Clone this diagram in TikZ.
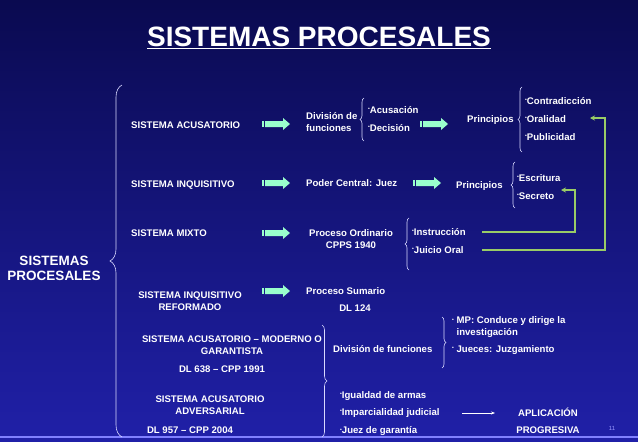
\documentclass[tikz,border=0pt]{standalone}
\usepackage{fontspec}
\setmainfont{Liberation Sans}
\usetikzlibrary{decorations.pathreplacing,arrows.meta,calc}
\definecolor{bgtop}{HTML}{0A0A50}
\definecolor{bgbot}{HTML}{2020A8}
\definecolor{mint}{HTML}{99FFCC}
\definecolor{olive}{HTML}{99CC66}
\newcommand{\bu}{{\fontsize{5}{5}\selectfont\raisebox{2.5pt}{\textbullet}}}
\tikzset{
 t/.style={text=white,font=\bfseries\fontsize{9.6}{11.5}\selectfont,inner sep=0pt,align=center},
 tl/.style={t,anchor=west,align=left},
 br/.style={draw=white!85!blue,line width=0.6pt,decorate,decoration={brace,amplitude=#1}},
 br/.default=4pt,
 brm/.style={draw=white!85!blue,line width=0.6pt,decorate,decoration={brace,mirror,amplitude=#1}},
 brm/.default=4pt,
 gline/.style={draw=olive,line width=1.3pt,-{Stealth[length=5pt,width=5pt]}}
}
\newcommand{\blkarrow}[2]{% x,y left
 \fill[mint] (#1,#2-3) rectangle ++(2,6);
 \fill[mint] (#1+3,#2-3) -- ++(18,0) -- ++(0,-3) -- ++(7,6) -- ++(-7,6) -- ++(0,-3) -- ++(-18,0) -- cycle;}
\begin{document}
\begin{tikzpicture}[x=1pt,y=-1pt]
\useasboundingbox (0,0) rectangle (638,442);
\shade[top color=bgtop,bottom color=bgbot] (0,0) rectangle (638,442);
\fill[blue!50!white] (0,436) rectangle (638,437.5);
% title
\node[text=white,font=\bfseries\fontsize{28}{32}\selectfont] (title) at (319,38) {\underline{SISTEMAS PROCESALES}};
% root
\node[t,font=\bfseries\fontsize{13.5}{15}\selectfont] (root) at (54,268) {SISTEMAS\\PROCESALES};
\draw[br=12pt] (122,437) -- (122,85);
% row 1
\node[tl] (sa) at (131,125) {SISTEMA ACUSATORIO};
\blkarrow{262}{124}
\node[tl] (df) at (306,122) {División de\\funciones};
\draw[br] (364,141) -- (364,98);
\node[tl] (ac) at (368,110) {\bu Acusación};
\node[tl] (de) at (368,128) {\bu Decisión};
\blkarrow{420}{124}
\node[tl] (p1) at (467,120) {Principios};
\draw[br] (522,152) -- (522,87);
\node[tl] (co) at (525,101) {\bu Contradicción};
\node[tl] (or) at (525,119) {\bu Oralidad};
\node[tl] (pu) at (525,137) {\bu Publicidad};
% row 2
\node[tl] (si) at (131,185) {SISTEMA INQUISITIVO};
\blkarrow{262}{183}
\node[tl] (pc) at (306,183) {Poder Central: Juez};
\blkarrow{413}{183}
\node[tl] (p2) at (456,186) {Principios};
\draw[br] (515,208) -- (515,162);
\node[tl] (es) at (517,178) {\bu Escritura};
\node[tl] (se) at (517,196) {\bu Secreto};
% row 3
\node[tl] (sm) at (131,233) {SISTEMA MIXTO};
\blkarrow{262}{233}
\node[t] (po) at (351,239) {Proceso Ordinario\\CPPS 1940};
\draw[br] (409,270) -- (409,218);
\node[tl] (in) at (412,232) {\bu Instrucción};
\node[tl] (ju) at (412,250) {\bu Juicio Oral};
\coordinate (g1a) at (482,232);
\coordinate (g1b) at (575,190);
\coordinate (g1c) at (561,190);
\draw[gline] (g1a) -| (g1b) -- (g1c);
\coordinate (g2a) at (482,250);
\coordinate (g2b) at (605,118);
\coordinate (g2c) at (590,118);
\draw[gline] (g2a) -| (g2b) -- (g2c);
% row 4
\node[t] (sir) at (190,301) {SISTEMA INQUISITIVO\\REFORMADO};
\blkarrow{262}{291}
\node[tl] (ps) at (306,291) {Proceso Sumario};
\node[t] (dl124) at (355,308) {DL 124};
% row 5
\node[t] (sam) at (232,345) {SISTEMA ACUSATORIO – MODERNO O\\GARANTISTA};
\node[t] (dl638) at (222,369) {DL 638 – CPP 1991};
\draw[brm=5pt] (322,437) -- (322,325);
\node[tl] (df2) at (333,349) {División de funciones};
\draw[brm] (442,368) -- (442,317);
\node[tl] (mp) at (452,327) {\bu\ MP: Conduce y dirige la\\\phantom{\bu\ }investigación};
\node[tl] (jj) at (452,350) {\bu\ Jueces: Juzgamiento};
% row 6
\node[t] (saa) at (210,405) {SISTEMA ACUSATORIO\\ADVERSARIAL};
\node[t] (dl957) at (190,430) {DL 957 – CPP 2004};
\node[tl] (ig) at (340,396) {\bu Igualdad de armas};
\node[tl] (im) at (340,413) {\bu Imparcialidad judicial};
\node[tl] (jg) at (340,431) {\bu Juez de garantía};
\node[t] (ap) at (548,421) {APLICACIÓN\\[6pt]PROGRESIVA};
\coordinate (ax) at (462,413);
\draw[white,line width=0.6pt,-{Stealth[length=4pt]}] (ax) -- (495,413);
\node[text=blue!40!white,font=\fontsize{6}{7}\selectfont] (pg) at (612,428) {11};
\end{tikzpicture}
\end{document}
